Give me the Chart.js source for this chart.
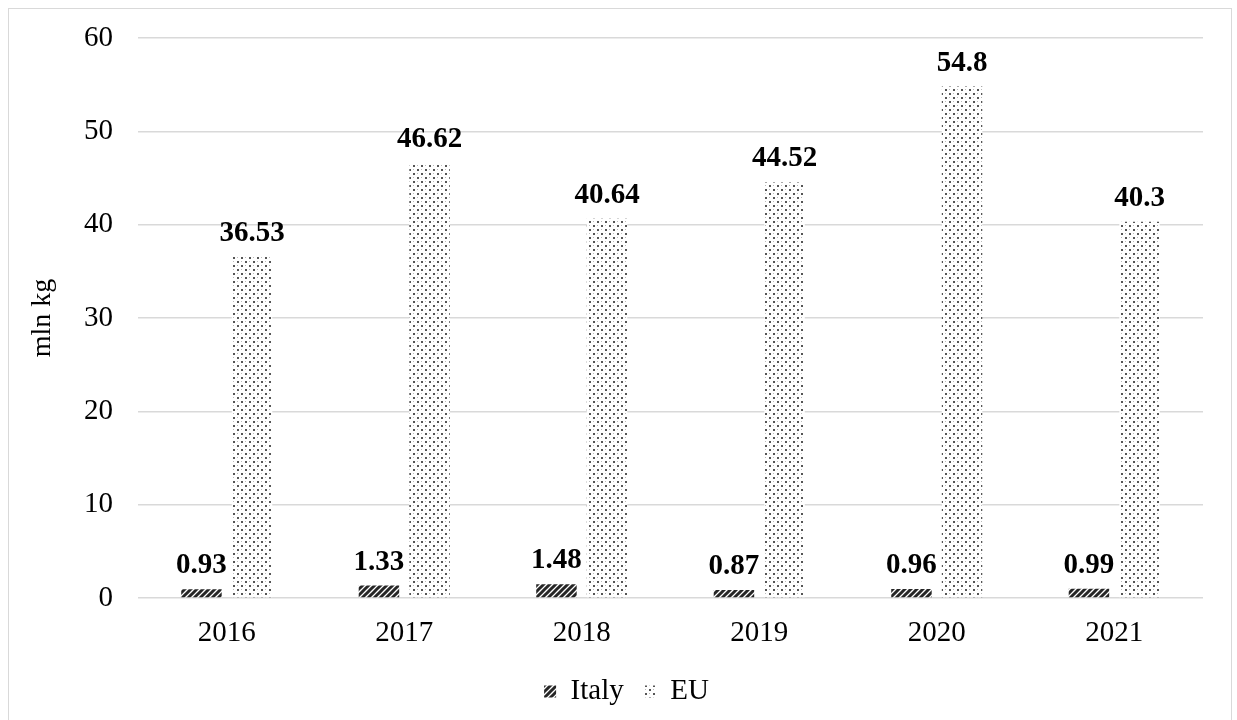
<!DOCTYPE html>
<html>
<head>
<meta charset="utf-8">
<script src="https://cdn.jsdelivr.net/npm/chart.js@4.4.1/dist/chart.umd.min.js"></script>
<style>
  body { margin:0; background:#fff; }
  #wrap { position:relative; width:1237px; height:720px; overflow:hidden; }
  #frame { position:absolute; left:8px; top:8px; width:1222px; height:760px; border:1px solid #d9d9d9; pointer-events:none; }
</style>
</head>
<body>
<div id="wrap">
  <canvas id="chart" width="1237" height="720"></canvas>
  <div id="frame"></div>
</div>
<script>
const years = ['2016','2017','2018','2019','2020','2021']
const italy = [0.93, 1.33, 1.48, 0.87, 0.96, 0.99]
const eu    = [36.53, 46.62, 40.64, 44.52, 54.8, 40.3]
const yTicks = [0, 10, 20, 30, 40, 50, 60]

const FONT = "'Liberation Serif','Times New Roman',serif"

function stripePattern() {
  const c = document.createElement('canvas')
  c.width = 6; c.height = 6
  const g = c.getContext('2d')
  g.fillStyle = '#fff'; g.fillRect(0,0,6,6)
  g.strokeStyle = '#262626'; g.lineWidth = 3
  g.beginPath()
  g.moveTo(-3,9); g.lineTo(9,-3)
  g.moveTo(-6,6); g.lineTo(6,-6)
  g.moveTo(0,12); g.lineTo(12,0)
  g.stroke()
  return g.createPattern(c, 'repeat')
}

// sparse dots, big dark ones on a diagonal lattice with faint ones between
function dotPattern() {
  const c = document.createElement('canvas')
  c.width = 8; c.height = 8
  const g = c.getContext('2d')
  g.fillStyle = '#fff'; g.fillRect(0,0,8,8)
  g.fillStyle = '#555'
  g.fillRect(1,1,2,2); g.fillRect(5,5,2,2)
  g.fillStyle = '#bbb'
  g.fillRect(5,1,1,1); g.fillRect(1,5,1,1)
  return g.createPattern(c, 'repeat')
}

const valueLabels = {
  id: 'valueLabels',
  afterDatasetsDraw(chart) {
    const ctx = chart.ctx
    ctx.save()
    ctx.font = `bold 29px ${FONT}`
    ctx.fillStyle = '#000'
    ctx.textAlign = 'center'
    ctx.textBaseline = 'alphabetic'
    chart.data.datasets.forEach((ds, i) => {
      chart.getDatasetMeta(i).data.forEach((bar, j) => {
        ctx.fillText(String(ds.data[j]), bar.x, bar.y - 16)
      })
    })
    ctx.restore()
  }
}

// nudge the legend a bit right, like the original
const legendShift = {
  id: 'legendShift',
  afterLayout(chart) {
    if (chart.legend) { chart.legend.left += 13; chart.legend.right += 13 }
  }
}

new Chart(document.getElementById('chart'), {
  type: 'bar',
  data: {
    labels: years,
    datasets: [
      { label: 'Italy', data: italy, backgroundColor: stripePattern(), borderWidth: 0 },
      { label: 'EU',    data: eu,    backgroundColor: dotPattern(),    borderWidth: 0 },
    ]
  },
  options: {
    responsive: false,
    animation: false,
    events: [],
    categoryPercentage: 0.57,
    barPercentage: 0.8,
    layout: { padding: { left: 24, right: 34, top: 38, bottom: 4 } },
    plugins: {
      legend: {
        position: 'bottom',
        labels: { font: { size: 29, family: FONT }, color: '#000', boxWidth: 12, boxHeight: 12, padding: 20 }
      },
      tooltip: { enabled: false }
    },
    scales: {
      x: {
        grid: { display: false },
        border: { display: false },
        afterFit: s => { s.height = 59 },
        ticks: { font: { size: 29, family: FONT }, color: '#000', padding: 10 }
      },
      y: {
        min: 0, max: 60,
        afterBuildTicks: s => { s.ticks = yTicks.map(v => ({ value: v })) },
        afterFit: s => { s.width = 114; s.paddingTop = 0; s.paddingBottom = 0 },
        grid: { color: '#d9d9d9', lineWidth: 1.5, drawTicks: false },
        border: { display: false },
        ticks: { font: { size: 29, family: FONT }, color: '#000', padding: 25 },
        title: { display: true, text: 'mln kg', font: { size: 28, family: FONT }, color: '#000', padding: 2 }
      }
    }
  },
  plugins: [valueLabels, legendShift]
})
</script>
</body>
</html>
